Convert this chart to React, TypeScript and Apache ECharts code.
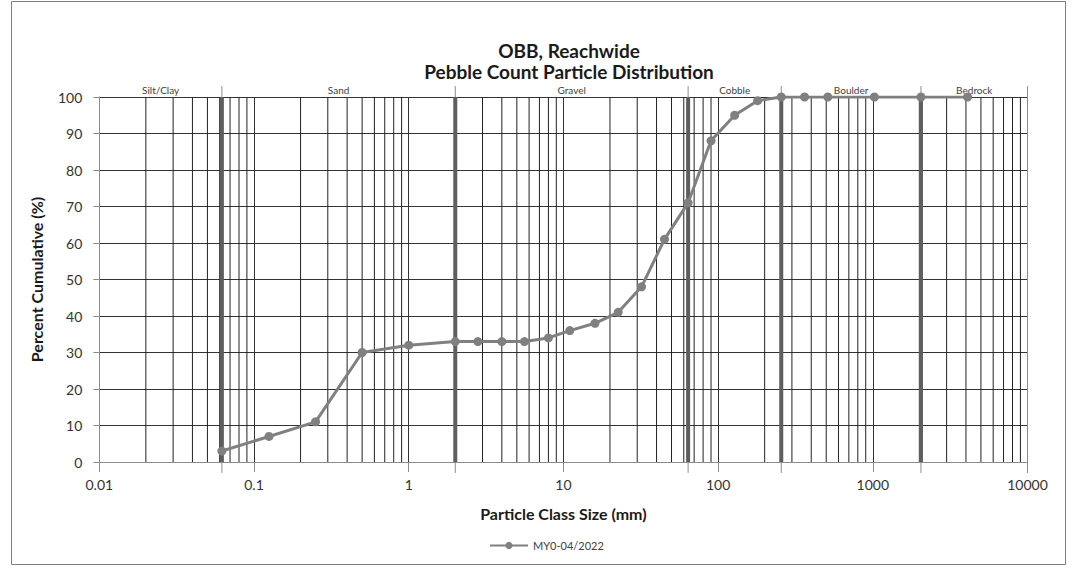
import React, { useEffect, useRef } from "react";
import * as echarts from "echarts";

// Particle class sizes (mm) and cumulative percent
const sizes = [0.062, 0.125, 0.25, 0.5, 1, 2, 2.8, 4, 5.6, 8, 11, 16, 22.6, 32, 45, 64, 90, 128, 180, 256, 362, 512, 1024, 2048, 4096];
const cumulative = [3, 7, 11, 30, 32, 33, 33, 33, 33, 34, 36, 38, 41, 48, 61, 71, 88, 95, 99, 100, 100, 100, 100, 100, 100];
const seriesName = "MY0-04/2022";

// Size class bands
const classNames = ["Silt/Clay", "Sand", "Gravel", "Cobble", "Boulder", "Bedrock"];
const classBounds = [0.01, 0.062, 2, 64, 256, 2048, 10000];

// Minor log grid lines
const decades = [0.01, 0.1, 1, 10, 100, 1000];
const multipliers = [2, 3, 4, 5, 6, 7, 8, 9];

const FONT = "Lato, 'Open Sans', sans-serif";

export default function App() {
  const ref = useRef<HTMLDivElement>(null);

  useEffect(() => {
    if (!ref.current) return;
    const chart = echarts.init(ref.current, undefined, { renderer: "svg" });

    const minorGrid: number[][] = [];
    decades.forEach((d) => multipliers.forEach((m) => minorGrid.push([d * m, 0])));

    const boundaryData = classBounds.slice(1).map((b, i) => [b, 0, i < classBounds.length - 2 ? 1 : 0]);
    const labelData = classNames.map((n, i) => [Math.sqrt(classBounds[i] * classBounds[i + 1]), 100, n]);

    const option: any = {
      animation: false,
      backgroundColor: "#ffffff",
      textStyle: { fontFamily: FONT },
      title: {
        text: "OBB, Reachwide\nPebble Count Particle Distribution",
        left: 564,
        textAlign: "center",
        top: 35,
        textStyle: { fontFamily: FONT, fontSize: 19, fontWeight: "bold", color: "#1a1a1a", lineHeight: 21 },
      },
      graphic: [
        {
          type: "rect",
          shape: { x: 11.5, y: 1.5, width: 1054, height: 563 },
          style: { fill: "none", stroke: "#7f7f7f", lineWidth: 1 },
          silent: true,
        },
      ],
      legend: {
        left: 484,
        top: 535,
        itemWidth: 38,
        itemHeight: 9,
        itemGap: 4,
        data: [seriesName],
        textStyle: { fontFamily: FONT, fontSize: 11, color: "#404040" },
      },
      grid: { left: 99.3, right: 44.5, top: 97, bottom: 106 },
      xAxis: {
        type: "log",
        logBase: 10,
        min: 0.01,
        max: 10000,
        name: "Particle Class Size (mm)",
        nameLocation: "middle",
        nameGap: 43,
        nameTextStyle: { fontFamily: FONT, fontSize: 16, fontWeight: "bold", color: "#1a1a1a" },
        axisLine: { show: true, lineStyle: { color: "#8c8c8c", width: 1 } },
        axisTick: { show: true, inside: false, length: 10, lineStyle: { color: "#8c8c8c" } },
        axisLabel: {
          fontFamily: FONT,
          fontSize: 14,
          color: "#333333",
          margin: 15,
          formatter: (v: number) => String(+v.toPrecision(3)),
        },
        splitLine: { show: true, lineStyle: { color: "#333333", width: 1 } },
      },
      yAxis: {
        type: "value",
        min: 0,
        max: 100,
        interval: 10,
        name: "Percent Cumulative (%)",
        nameLocation: "middle",
        nameGap: 55,
        nameTextStyle: { fontFamily: FONT, fontSize: 16, fontWeight: "bold", color: "#1a1a1a" },
        axisLine: { show: true, lineStyle: { color: "#8c8c8c", width: 1 } },
        axisTick: { show: true, inside: false, length: 6, lineStyle: { color: "#8c8c8c" } },
        axisLabel: { fontFamily: FONT, fontSize: 14, color: "#333333", margin: 17 },
        splitLine: { show: true, lineStyle: { color: "#333333", width: 1 } },
      },
      series: [
        {
          type: "custom",
          name: "minorGrid",
          silent: true,
          z: 1,
          encode: { x: 0, y: 1 },
          data: minorGrid,
          renderItem: (params: any, api: any) => {
            const v = api.value(0);
            const p0 = api.coord([v, 0]);
            const p1 = api.coord([v, 100]);
            return {
              type: "line",
              shape: { x1: p0[0], y1: p0[1], x2: p1[0], y2: p1[1] },
              style: { stroke: "#222222", lineWidth: 1 },
            };
          },
        },
        {
          type: "custom",
          name: "bounds",
          silent: true,
          clip: false,
          z: 2,
          encode: { x: 0, y: 1 },
          data: boundaryData,
          renderItem: (params: any, api: any) => {
            const v = api.value(0);
            const thick = api.value(2) === 1;
            const lo = api.coord([v, -3]);
            const hi = api.coord([v, 103]);
            const b0 = api.coord([v, 0]);
            const b1 = api.coord([v, 100]);
            const children: any[] = [
              {
                type: "line",
                shape: { x1: lo[0], y1: lo[1], x2: hi[0], y2: hi[1] },
                style: { stroke: "#8c8c8c", lineWidth: 1 },
              },
            ];
            if (thick) {
              children.push({
                type: "line",
                shape: { x1: b0[0], y1: b0[1], x2: b1[0], y2: b1[1] },
                style: { stroke: "#5e5e5e", lineWidth: 4 },
              });
            }
            return { type: "group", children };
          },
        },
        {
          type: "custom",
          name: "classLabels",
          silent: true,
          clip: false,
          z: 2,
          encode: { x: 0, y: 1 },
          data: labelData,
          renderItem: (params: any, api: any) => {
            const p = api.coord([api.value(0), 100]);
            return {
              type: "text",
              x: p[0],
              y: p[1] - 7,
              style: {
                text: labelData[params.dataIndex][2],
                fontFamily: FONT,
                fontSize: 10,
                fill: "#404040",
                align: "center",
                verticalAlign: "middle",
              },
            };
          },
        },
        {
          type: "line",
          name: seriesName,
          z: 5,
          data: sizes.map((s, i) => [s, cumulative[i]]),
          symbol: "circle",
          symbolSize: 9,
          showSymbol: true,
          itemStyle: { color: "#808080" },
          lineStyle: { color: "#808080", width: 3 },
        },
      ],
    };

    chart.setOption(option);
    return () => chart.dispose();
  }, []);

  return (
    <div
      ref={ref}
      style={{ position: "fixed", left: 0, top: 0, width: 1072, height: 568, background: "#fff" }}
    />
  );
}
